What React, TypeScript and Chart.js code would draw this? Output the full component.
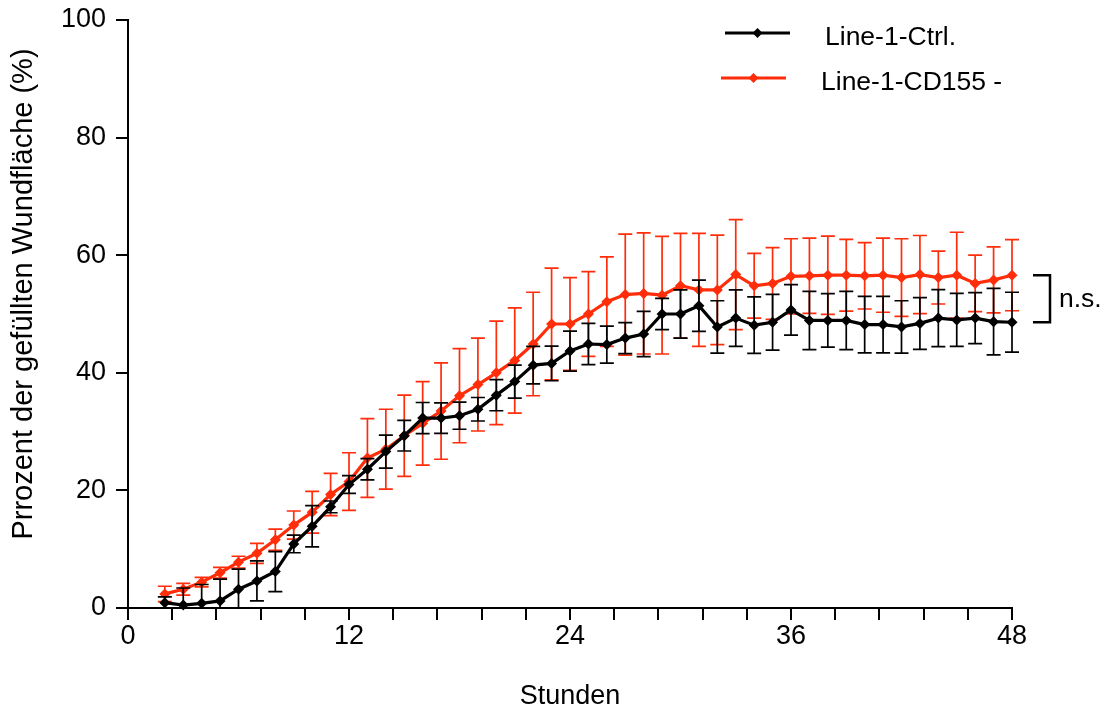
import { useEffect, useRef } from 'react';
import { Chart, registerables } from 'chart.js';

Chart.register(...registerables);

// ---- data ----
const hours = [2, 3, 4, 5, 6, 7, 8, 9, 10, 11, 12, 13, 14, 15, 16, 17, 18, 19, 20, 21, 22, 23, 24, 25, 26, 27, 28, 29, 30, 31, 32, 33, 34, 35, 36, 37, 38, 39, 40, 41, 42, 43, 44, 45, 46, 47, 48];

const ctrlMean = [0.9, 0.5, 0.8, 1.2, 3.2, 4.6, 6.2, 10.9, 13.9, 17.2, 21.0, 23.6, 26.6, 29.3, 32.3, 32.3, 32.7, 33.8, 36.2, 38.5, 41.3, 41.6, 43.7, 44.9, 44.8, 45.9, 46.6, 50.0, 50.0, 51.4, 47.8, 49.3, 48.1, 48.6, 50.7, 48.9, 48.9, 48.9, 48.2, 48.2, 47.8, 48.4, 49.3, 49.0, 49.3, 48.7, 48.6];
const ctrlSd = [1.0, 2.9, 3.2, 3.7, 3.4, 3.4, 3.4, 1.5, 3.5, 1.0, 1.5, 1.8, 2.8, 2.6, 2.65, 2.6, 2.3, 2.0, 2.65, 2.8, 3.2, 2.95, 3.4, 3.5, 3.15, 2.65, 3.85, 2.65, 4.1, 4.35, 4.45, 4.8, 4.8, 4.75, 4.3, 4.95, 4.55, 4.95, 4.8, 4.8, 4.45, 4.4, 4.85, 4.5, 4.35, 5.65, 5.1];

const cd155Mean = [2.4, 3.2, 4.4, 6.0, 7.8, 9.3, 11.6, 14.1, 16.3, 19.3, 21.5, 25.5, 27.0, 29.3, 31.4, 33.5, 36.1, 38.0, 40.0, 42.1, 44.9, 48.3, 48.3, 50.0, 52.1, 53.3, 53.5, 53.2, 54.8, 54.1, 54.1, 56.7, 54.8, 55.2, 56.4, 56.5, 56.6, 56.6, 56.5, 56.6, 56.2, 56.7, 56.2, 56.6, 55.2, 55.8, 56.6];
const cd155Sd = [1.3, 1.0, 0.8, 0.9, 1.0, 1.7, 1.8, 2.4, 3.55, 3.6, 4.9, 6.7, 6.8, 6.9, 7.1, 8.2, 8.0, 7.9, 8.8, 8.95, 8.8, 9.5, 7.9, 7.2, 7.6, 10.3, 10.3, 10.0, 8.9, 9.6, 9.3, 9.35, 5.5, 6.1, 6.4, 6.4, 6.65, 6.1, 5.65, 6.3, 6.6, 6.65, 4.5, 7.3, 4.8, 5.6, 6.05];

const seriesNames = ['Line-1-Ctrl.', 'Line-1-CD155 -'];
const seriesColors = ['#000000', '#ff2d0a'];

const xTickValues = [0, 2.4, 4.8, 7.2, 9.6, 12, 14.4, 16.8, 19.2, 21.6, 24, 26.4, 28.8, 31.2, 33.6, 36, 38.4, 40.8, 43.2, 45.6, 48];
const xTickLabels = [0, 12, 24, 36, 48];
const yTickValues = [0, 20, 40, 60, 80, 100];

const xTitle = 'Stunden';
const yTitle = 'Prrozent der gefüllten Wundfläche (%)';
const sigLabel = 'n.s.';

const FONT = "'Liberation Sans', Arial, Helvetica, sans-serif";
const sdSets = [ctrlSd, cd155Sd];

const errorBarPlugin = {
  id: 'errorBars',
  beforeDatasetDraw(chart: any, args: any) {
    const i = args.index;
    const sd = sdSets[i];
    const ds = chart.data.datasets[i];
    const y = chart.scales.y;
    const x = chart.scales.x;
    const ctx = chart.ctx;
    const a = chart.chartArea;
    ctx.save();
    ctx.beginPath();
    ctx.rect(a.left - 20, a.top - 20, a.width + 40, a.height + 20);
    ctx.clip();
    ctx.strokeStyle = ds.borderColor;
    ctx.lineWidth = 1.7;
    ds.data.forEach((p: any, k: number) => {
      const px = x.getPixelForValue(p.x);
      const top = y.getPixelForValue(p.y + sd[k]);
      const bot = y.getPixelForValue(p.y - sd[k]);
      const hw = 7;
      ctx.beginPath();
      ctx.moveTo(px, top);
      ctx.lineTo(px, bot);
      ctx.moveTo(px - hw, top);
      ctx.lineTo(px + hw, top);
      ctx.moveTo(px - hw, bot);
      ctx.lineTo(px + hw, bot);
      ctx.stroke();
    });
    ctx.restore();
  },
};

const yTitlePlugin = {
  id: 'yTitle',
  afterDraw(chart: any) {
    const ctx = chart.ctx;
    const a = chart.chartArea;
    ctx.save();
    ctx.translate(24, (a.top + a.bottom) / 2 - 20);
    ctx.rotate(-Math.PI / 2);
    ctx.fillStyle = '#000';
    ctx.font = `29px ${FONT}`;
    ctx.textAlign = 'center';
    ctx.textBaseline = 'middle';
    ctx.fillText(yTitle, 0, 0);
    ctx.restore();
  },
};

const legendPlugin = {
  id: 'customLegend',
  afterDraw(chart: any) {
    const ctx = chart.ctx;
    const rows = [
      { x0: 725, x1: 790, y: 33, tx: 825, ty: 45 },
      { x0: 721, x1: 786, y: 78, tx: 821, ty: 90 },
    ];
    chart.data.datasets.forEach((ds: any, i: number) => {
      const r = rows[i];
      ctx.save();
      ctx.strokeStyle = ds.borderColor;
      ctx.fillStyle = ds.borderColor;
      ctx.lineWidth = 2.8;
      ctx.beginPath();
      ctx.moveTo(r.x0, r.y);
      ctx.lineTo(r.x1, r.y);
      ctx.stroke();
      const cx = (r.x0 + r.x1) / 2;
      const s = 5;
      ctx.beginPath();
      ctx.moveTo(cx, r.y - s);
      ctx.lineTo(cx + s, r.y);
      ctx.lineTo(cx, r.y + s);
      ctx.lineTo(cx - s, r.y);
      ctx.closePath();
      ctx.fill();
      ctx.fillStyle = '#000';
      ctx.font = `26.5px ${FONT}`;
      ctx.textBaseline = 'alphabetic';
      ctx.textAlign = 'left';
      ctx.fillText(ds.label, r.tx, r.ty);
      ctx.restore();
    });
  },
};

const bracketPlugin = {
  id: 'sigBracket',
  afterDraw(chart: any) {
    const ctx = chart.ctx;
    const y = chart.scales.y;
    const yTop = y.getPixelForValue(cd155Mean[cd155Mean.length - 1]);
    const yBot = y.getPixelForValue(ctrlMean[ctrlMean.length - 1]);
    const xr = 1050;
    const xl = 1033;
    ctx.save();
    ctx.strokeStyle = '#000';
    ctx.lineWidth = 2.5;
    ctx.beginPath();
    ctx.moveTo(xl, yTop);
    ctx.lineTo(xr, yTop);
    ctx.lineTo(xr, yBot);
    ctx.lineTo(xl, yBot);
    ctx.stroke();
    ctx.fillStyle = '#000';
    ctx.font = `26.5px ${FONT}`;
    ctx.textBaseline = 'alphabetic';
    ctx.textAlign = 'left';
    ctx.fillText(sigLabel, 1059, (yTop + yBot) / 2 + 8);
    ctx.restore();
  },
};

export default function App() {
  const canvasRef = useRef<HTMLCanvasElement | null>(null);

  useEffect(() => {
    if (!canvasRef.current) return;
    const means = [ctrlMean, cd155Mean];
    const chart = new Chart(canvasRef.current, {
      type: 'line',
      data: {
        datasets: means.map((m, i) => ({
          label: seriesNames[i],
          data: hours.map((h, k) => ({ x: h, y: m[k] })),
          borderColor: seriesColors[i],
          backgroundColor: seriesColors[i],
          borderWidth: 3.2,
          pointStyle: 'rectRot',
          pointRadius: 5.5,
          pointBorderWidth: 0,
          pointBackgroundColor: seriesColors[i],
          tension: 0,
          clip: false as any,
        })),
      },
      options: {
        animation: false,
        responsive: true,
        maintainAspectRatio: false,
        layout: { padding: { left: 0, top: 20, right: 94, bottom: 0 } },
        plugins: {
          legend: { display: false },
          tooltip: { enabled: false },
        },
        scales: {
          x: {
            type: 'linear',
            min: 0,
            max: 48,
            afterBuildTicks: (s: any) => {
              s.ticks = xTickValues.map((v) => ({ value: v }));
            },
            afterFit: (s: any) => {
              s.height = 107;
            },
            border: { display: true, color: '#000', width: 2 },
            grid: { drawOnChartArea: false, drawTicks: true, color: '#000', lineWidth: 2, tickLength: 12 },
            ticks: {
              autoSkip: false,
              maxRotation: 0,
              color: '#000',
              padding: 0,
              font: { family: FONT, size: 27 },
              callback: (v: any) => {
                const r = Math.round(Number(v) * 10) / 10;
                return xTickLabels.includes(r) ? String(r) : '';
              },
            },
            title: {
              display: true,
              text: xTitle,
              color: '#000',
              font: { family: FONT, size: 27 },
              padding: { top: 0, bottom: 2 },
            },
          },
          y: {
            type: 'linear',
            min: 0,
            max: 100,
            afterBuildTicks: (s: any) => {
              s.ticks = yTickValues.map((v) => ({ value: v }));
            },
            afterFit: (s: any) => {
              s.width = 128;
              s.paddingTop = 0;
              s.paddingBottom = 0;
            },
            border: { display: true, color: '#000', width: 2 },
            grid: { drawOnChartArea: false, drawTicks: true, color: '#000', lineWidth: 2, tickLength: 12 },
            ticks: {
              color: '#000',
              padding: 10,
              font: { family: FONT, size: 27 },
            },
            title: { display: false },
          },
        },
      },
      plugins: [errorBarPlugin, legendPlugin, bracketPlugin, yTitlePlugin],
    });
    return () => chart.destroy();
  }, []);

  return (
    <div style={{ position: 'absolute', left: 0, top: 0, width: 1106, height: 715 }}>
      <canvas ref={canvasRef} />
    </div>
  );
}
